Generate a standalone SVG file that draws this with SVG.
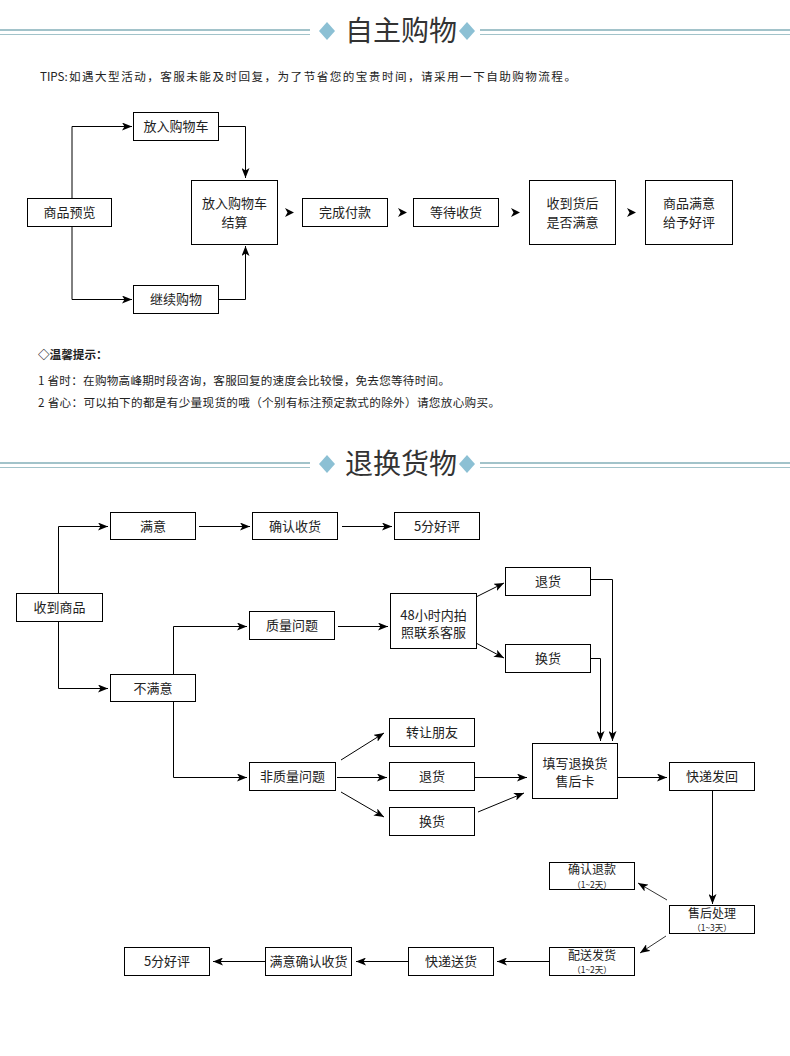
<svg xmlns="http://www.w3.org/2000/svg" width="790" height="1056" viewBox="0 0 790 1056">
<style>
.bx{fill:#fff;stroke:#000;stroke-width:1}
.t{font-family:"Noto Sans CJK SC","Noto Sans",sans-serif;font-size:13px;fill:#222;text-anchor:middle}
.t2{font-family:"Noto Sans CJK SC","Noto Sans",sans-serif;font-size:12px;fill:#222;text-anchor:middle}
.s{font-family:"Noto Sans CJK SC","Noto Sans",sans-serif;font-size:8.5px;fill:#222;text-anchor:middle}
.p{font-family:"Noto Sans CJK SC","Noto Sans",sans-serif;font-size:11.6px;fill:#222}
.h{font-family:"Noto Sans CJK SC","Noto Sans",sans-serif;font-size:28px;fill:#333;text-anchor:middle}
.c{fill:none;stroke:#000;stroke-width:1}
.ct{fill:none;stroke:#000;stroke-width:0.8}
.hl{stroke:#a2c3ca}
.dm{fill:#8cc0d4}
</style>
<defs>
<marker id="a" markerUnits="userSpaceOnUse" markerWidth="10" markerHeight="8" viewBox="0 0 10 8" refX="10" refY="4" orient="auto">
<path d="M0,0 L10,4 L0,8 L2.5,4 z" fill="#000"/>
</marker>
</defs>
<rect width="790" height="1056" fill="#fff"/>

<g id="header1">
<line class="hl" x1="0" y1="30" x2="310" y2="30" stroke-width="2"/>
<line class="hl" x1="0" y1="34.5" x2="310" y2="34.5" stroke-width="1"/>
<line class="hl" x1="480" y1="30" x2="790" y2="30" stroke-width="2"/>
<line class="hl" x1="480" y1="34.5" x2="790" y2="34.5" stroke-width="1"/>
<polygon class="dm" points="327,22 335,31 327,40 319,31"/>
<polygon class="dm" points="467,22 475,31 467,40 459,31"/>
<text class="h" x="401" y="41">自主购物</text>
</g>

<g id="tips">
<text class="p" x="40" y="81" font-size="12.6px">TIPS:</text>
<text class="p" x="69" y="81" font-size="12.6px" textLength="507" lengthAdjust="spacing">如遇大型活动，客服未能及时回复，为了节省您的宝贵时间，请采用一下自助购物流程。</text>
</g>

<g id="connectors1">
<path class="c" d="M72,198 V126.5 H132" marker-end="url(#a)"/>
<path class="c" d="M72,226 V299.5 H132" marker-end="url(#a)"/>
<path class="c" d="M218,126.5 H245.5 V178" marker-end="url(#a)"/>
<path class="c" d="M218,299.5 H245.5 V246" marker-end="url(#a)"/>
<path d="M285,208 L294,212.5 L285,217 L287.5,212.5 z"/>
<path d="M398,208 L407,212.5 L398,217 L400.5,212.5 z"/>
<path d="M511,208 L520,212.5 L511,217 L513.5,212.5 z"/>
<path d="M627,208 L636,212.5 L627,217 L629.5,212.5 z"/>
</g>

<g id="n-preview"><rect class="bx" x="27.5" y="198.5" width="84" height="28"/><text class="t" x="69.5" y="217">商品预览</text></g>
<g id="n-cart"><rect class="bx" x="133.5" y="112.5" width="85" height="28"/><text class="t" x="176" y="131">放入购物车</text></g>
<g id="n-continue"><rect class="bx" x="133.5" y="285.5" width="85" height="28"/><text class="t" x="176" y="304">继续购物</text></g>
<g id="n-checkout"><rect class="bx" x="191.5" y="180.5" width="86" height="64"/><text class="t" x="234.5" y="208">放入购物车</text><text class="t" x="234.5" y="227">结算</text></g>
<g id="n-pay"><rect class="bx" x="302.5" y="198.5" width="85" height="28"/><text class="t" x="345" y="217">完成付款</text></g>
<g id="n-wait"><rect class="bx" x="413.5" y="198.5" width="85" height="28"/><text class="t" x="456" y="217">等待收货</text></g>
<g id="n-received"><rect class="bx" x="529.5" y="180.5" width="86" height="64"/><text class="t" x="572.5" y="208">收到货后</text><text class="t" x="572.5" y="227">是否满意</text></g>
<g id="n-praise"><rect class="bx" x="645.5" y="180.5" width="87" height="64"/><text class="t" x="689" y="208">商品满意</text><text class="t" x="689" y="227">给予好评</text></g>

<g id="notes">
<text class="p" x="38" y="359" font-weight="bold" font-size="11px">◇温馨提示：</text>
<text class="p" x="38" y="385" textLength="412" lengthAdjust="spacing">1 省时：在购物高峰期时段咨询，客服回复的速度会比较慢，免去您等待时间。</text>
<text class="p" x="38" y="407" textLength="462" lengthAdjust="spacing">2 省心：可以拍下的都是有少量现货的哦（个别有标注预定款式的除外）请您放心购买。</text>
</g>

<g id="header2">
<line class="hl" x1="0" y1="463" x2="310" y2="463" stroke-width="2"/>
<line class="hl" x1="0" y1="467.5" x2="310" y2="467.5" stroke-width="1"/>
<line class="hl" x1="480" y1="463" x2="790" y2="463" stroke-width="2"/>
<line class="hl" x1="480" y1="467.5" x2="790" y2="467.5" stroke-width="1"/>
<polygon class="dm" points="327,455 335,464 327,473 319,464"/>
<polygon class="dm" points="467,455 475,464 467,473 459,464"/>
<text class="h" x="401" y="474">退换货物</text>
</g>

<g id="connectors2">
<path class="c" d="M58.5,593 V526.5 H108" marker-end="url(#a)"/>
<path class="c" d="M58.5,621 V688.5 H108" marker-end="url(#a)"/>
<path class="c" d="M199,526.5 H250" marker-end="url(#a)"/>
<path class="c" d="M342,526.5 H392" marker-end="url(#a)"/>
<path class="c" d="M173.5,674 V626.5 H247" marker-end="url(#a)"/>
<path class="c" d="M173.5,701 V777.5 H247" marker-end="url(#a)"/>
<path class="c" d="M338,626.5 H388" marker-end="url(#a)"/>
<path class="c" d="M476,597 L504,583" marker-end="url(#a)"/>
<path class="c" d="M476,643 L504,658" marker-end="url(#a)"/>
<path class="c" d="M590,579.5 H612.5 V741" marker-end="url(#a)"/>
<path class="c" d="M590,658.5 H600.5 V741" marker-end="url(#a)"/>
<path class="c" d="M341,760 L384,733" marker-end="url(#a)"/>
<path class="c" d="M337,777.5 H387" marker-end="url(#a)"/>
<path class="c" d="M341,792 L384,817" marker-end="url(#a)"/>
<path class="c" d="M474,777.5 H527" marker-end="url(#a)"/>
<path class="c" d="M478,812 L524,793" marker-end="url(#a)"/>
<path class="c" d="M617,777.5 H667" marker-end="url(#a)"/>
<path class="c" d="M712.5,790 V904" marker-end="url(#a)"/>
<path class="ct" d="M667,900 L638,883" marker-end="url(#a)"/>
<path class="ct" d="M666,936 L640,953" marker-end="url(#a)"/>
<path class="c" d="M549,961.5 H497" marker-end="url(#a)"/>
<path class="c" d="M408,961.5 H356" marker-end="url(#a)"/>
<path class="c" d="M265,961.5 H213" marker-end="url(#a)"/>
</g>

<g id="m-satisfied"><rect class="bx" x="110.5" y="512.5" width="85" height="27"/><text class="t" x="153" y="530.5">满意</text></g>
<g id="m-confirm"><rect class="bx" x="252.5" y="512.5" width="85" height="27"/><text class="t" x="295" y="530.5">确认收货</text></g>
<g id="m-5star"><rect class="bx" x="394.5" y="512.5" width="85" height="27"/><text class="t" x="437" y="530.5">5分好评</text></g>
<g id="m-received"><rect class="bx" x="16.5" y="593.5" width="86" height="28"/><text class="t" x="59.5" y="612">收到商品</text></g>
<g id="m-unsatisfied"><rect class="bx" x="110.5" y="674.5" width="85" height="27"/><text class="t" x="153" y="692.5">不满意</text></g>
<g id="m-quality"><rect class="bx" x="249.5" y="611.5" width="85" height="28"/><text class="t" x="292" y="630">质量问题</text></g>
<g id="m-48h"><rect class="bx" x="390.5" y="593.5" width="86" height="55"/><text class="t" x="433.5" y="620">48小时内拍</text><text class="t" x="433.5" y="637">照联系客服</text></g>
<g id="m-return1"><rect class="bx" x="505.5" y="567.5" width="85" height="28"/><text class="t" x="548" y="586">退货</text></g>
<g id="m-exchange1"><rect class="bx" x="505.5" y="644.5" width="85" height="28"/><text class="t" x="548" y="663">换货</text></g>
<g id="m-nonquality"><rect class="bx" x="249.5" y="762.5" width="86" height="28"/><text class="t" x="292.5" y="781">非质量问题</text></g>
<g id="m-transfer"><rect class="bx" x="389.5" y="718.5" width="85" height="28"/><text class="t" x="432" y="737">转让朋友</text></g>
<g id="m-return2"><rect class="bx" x="389.5" y="762.5" width="85" height="28"/><text class="t" x="432" y="781">退货</text></g>
<g id="m-exchange2"><rect class="bx" x="389.5" y="807.5" width="85" height="28"/><text class="t" x="432" y="826">换货</text></g>
<g id="m-card"><rect class="bx" x="532.5" y="743.5" width="85" height="55"/><text class="t" x="575" y="768">填写退换货</text><text class="t" x="575" y="786">售后卡</text></g>
<g id="m-sendback"><rect class="bx" x="669.5" y="762.5" width="85" height="28"/><text class="t" x="712" y="781">快递发回</text></g>
<g id="m-refund"><rect class="bx" x="549.5" y="862.5" width="85" height="27"/><text class="t2" x="592" y="874">确认退款</text><text class="s" x="592" y="887.5">（1~2天）</text></g>
<g id="m-aftersale"><rect class="bx" x="669.5" y="905.5" width="85" height="28"/><text class="t2" x="712" y="917.5">售后处理</text><text class="s" x="712" y="931">（1~3天）</text></g>
<g id="m-ship"><rect class="bx" x="549.5" y="947.5" width="85" height="28"/><text class="t2" x="592" y="959.5">配送发货</text><text class="s" x="592" y="973">（1~2天）</text></g>
<g id="m-delivery"><rect class="bx" x="408.5" y="947.5" width="85" height="28"/><text class="t" x="451" y="966">快递送货</text></g>
<g id="m-confirm2"><rect class="bx" x="265.5" y="947.5" width="86" height="28"/><text class="t" x="308.5" y="966" font-size="13.8px">满意确认收货</text></g>
<g id="m-5star2"><rect class="bx" x="124.5" y="947.5" width="85" height="28"/><text class="t" x="167" y="966">5分好评</text></g>
</svg>
